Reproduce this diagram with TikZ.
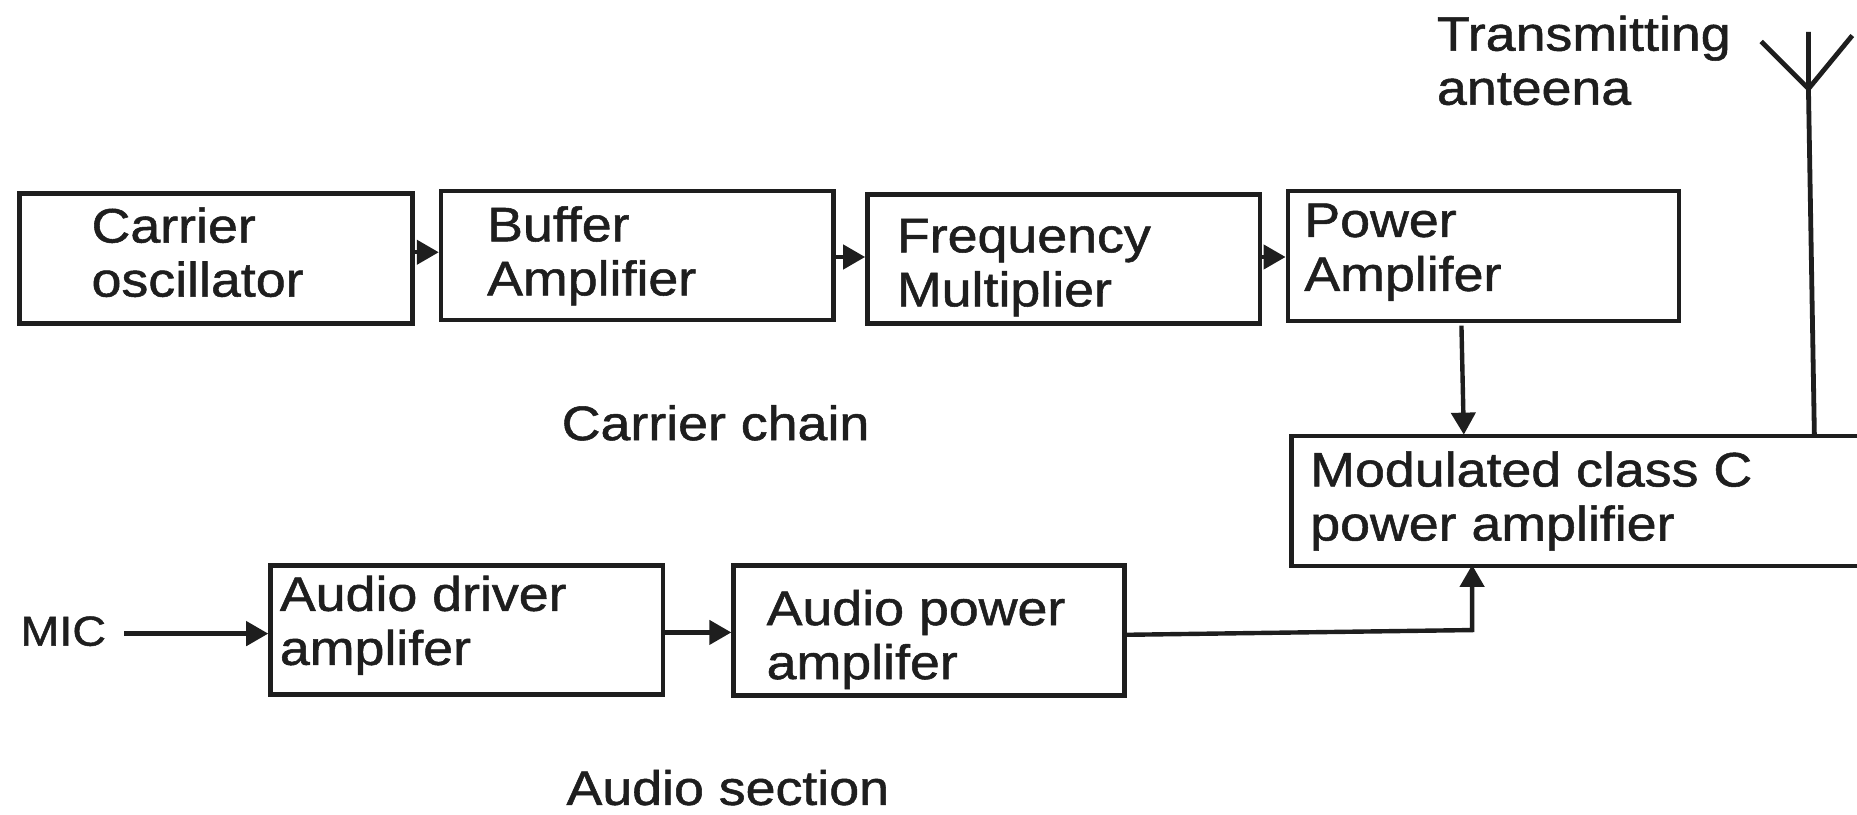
\documentclass[tikz,border=0pt]{standalone}
\usepackage{fontspec}
\setmainfont[FakeStretch=1.11,FakeBold=1.1]{Liberation Sans}
\usetikzlibrary{arrows.meta}
\definecolor{ink}{RGB}{30,30,30}
\tikzset{x=0.592pt,y=-0.592pt,
 blockbox/.style={draw=ink,line width=2.2pt,fill=white,inner sep=0pt,anchor=north west},
 lab/.style={text=ink,font=\fontsize{24.2}{27}\selectfont,align=left,anchor=west,inner sep=0pt},
 conn/.style={draw=ink,line width=2.2pt,-{Triangle[length=11pt,width=12pt]}},
 wire/.style={draw=ink,line width=2.4pt}}
\begin{document}
\begin{tikzpicture}
\useasboundingbox (0,0) rectangle (1568,688);
\fill[white] (0,0) rectangle (1568,688);
\node[blockbox,minimum width=196.6pt,minimum height=65pt] (co) at (14.5,161.5) {};
\node[blockbox,minimum width=196.2pt,minimum height=64.5pt] (ba) at (370.5,159.5) {};
\node[blockbox,minimum width=196.2pt,minimum height=64.5pt] (fm) at (730.5,162.5) {};
\node[blockbox,minimum width=195.5pt,minimum height=65pt] (pa) at (1085.5,159.5) {};
\node[blockbox,minimum width=300pt,minimum height=65pt] (mc) at (1088.5,366.5) {};
\node[blockbox,minimum width=196.2pt,minimum height=64.5pt] (ad) at (226.5,475.5) {};
\node[blockbox,minimum width=195.5pt,minimum height=65pt] (ap) at (617.5,475.5) {};
\node[lab] (t1) at (77,213) {Carrier\\oscillator};
\node[lab] (t2) at (411,216) {Buffer\\Amplifier};
\node[lab] (t3) at (757,226) {Frequency\\Multiplier};
\node[lab] (t4) at (1101,213) {Power\\Amplifer};
\node[lab] (t5) at (1106,423) {Modulated class C\\power amplifier};
\node[lab] (t6) at (236,528) {Audio driver\\amplifer};
\node[lab] (t7) at (647,540) {Audio power\\amplifer};
\node[lab] (cc) at (474,357) {Carrier chain};
\node[lab] (as) at (478,665) {Audio section};
\node[lab,font=\fontsize{21}{27}\selectfont] (mic) at (17,533) {MIC};
\node[lab] (ta) at (1213,51) {Transmitting\\anteena};
\coordinate (tip) at (1527,75);
\coordinate (tl) at (1487,35);
\coordinate (tr) at (1564,30);
\coordinate (tt) at (1527,27);
\coordinate (bend) at (1243,532);
\draw[conn] (co.east|-0,213) -- (ba.west|-0,213);
\draw[conn] (ba.east|-0,217) -- (fm.west|-0,217);
\draw[conn] (fm.east|-0,217) -- (pa.west|-0,217);
\draw[conn] (1234,275) -- (1236,367);
\draw[conn] (105,535) -- (ad.west|-0,535);
\draw[conn] (ad.east|-0,534) -- (ap.west|-0,534);
\draw[conn] (ap.east|-0,536) -- (bend) -- (1243,477);
\draw[wire] (1532,367) -- (tip);
\draw[wire] (tt) -- (tip) (tl) -- (tip) -- (tr);
\end{tikzpicture}
\end{document}
